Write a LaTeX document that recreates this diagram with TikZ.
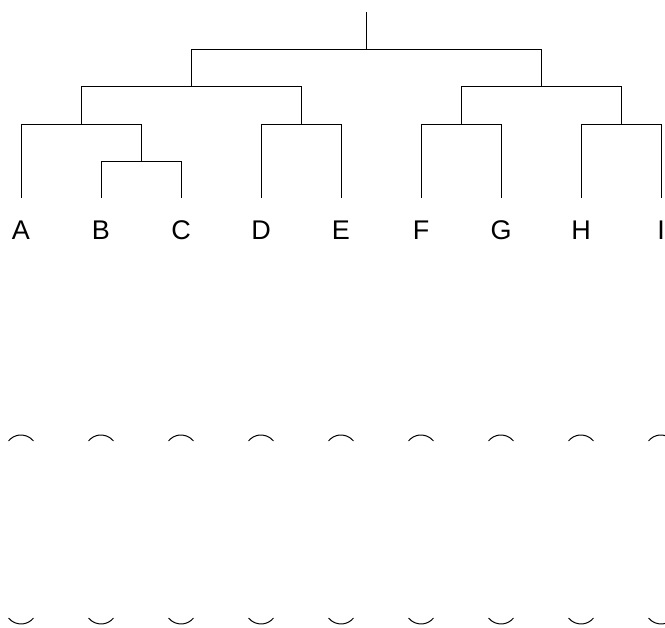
\documentclass[tikz,border=0pt]{standalone}
\usepackage{fontspec}
\setmainfont{Liberation Sans}
\begin{document}
\begin{tikzpicture}[x=1pt,y=1pt,
  branch/.style={draw=black,line width=0.9pt},
  leaflabel/.style={anchor=base,inner sep=0pt,font=\fontsize{27}{32}\selectfont},
  halfring/.style={draw=black,line width=1pt}]
\useasboundingbox (0,0) rectangle (665,628);
\clip (0,0) rectangle (665,628);
% leaves
\coordinate (A) at (21,430);
\coordinate (B) at (101,430);
\coordinate (C) at (181,430);
\coordinate (D) at (261,430);
\coordinate (E) at (341,430);
\coordinate (F) at (421,430);
\coordinate (G) at (501,430);
\coordinate (H) at (581,430);
\coordinate (I) at (661,430);
% internal joins
\coordinate (BC) at (141,467);
\coordinate (ABC) at (81,504);
\coordinate (DE) at (301,504);
\coordinate (FG) at (461,504);
\coordinate (HI) at (621,504);
\coordinate (AE) at (191,542);
\coordinate (FI) at (541,542);
\coordinate (root) at (366,579);
\coordinate (top) at (366,616);
% dendrogram
\draw[branch] (B) |- (BC) -| (C);
\draw[branch] (A) |- (ABC) -| (BC);
\draw[branch] (D) |- (DE) -| (E);
\draw[branch] (F) |- (FG) -| (G);
\draw[branch] (H) |- (HI) -| (I);
\draw[branch] (ABC) |- (AE) -| (DE);
\draw[branch] (FG) |- (FI) -| (HI);
\draw[branch] (AE) |- (root) -| (FI);
\draw[branch] (root) -- (top);
% labels
\foreach \n/\x in {A/21,B/101,C/181,D/261,E/341,F/421,G/501,H/581,I/661}{
  \node[leaflabel] (lab\n) at (\x,388) {\n};
  \coordinate (up\n) at (\x,177);
  \coordinate (dn\n) at (\x,20);
  \draw[halfring] (up\n) ++(39:16) arc[start angle=39,end angle=141,radius=16];
  \draw[halfring] (dn\n) ++(219:16) arc[start angle=219,end angle=321,radius=16];
}
\end{tikzpicture}
\end{document}
